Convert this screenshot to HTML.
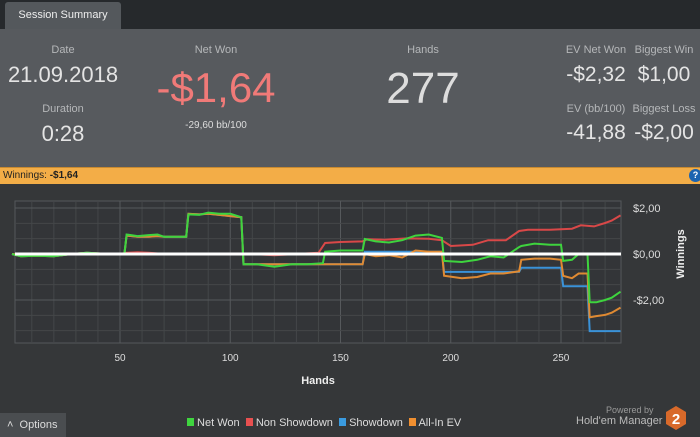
<!DOCTYPE html>
<html><head><meta charset="utf-8"><style>
*{margin:0;padding:0;box-sizing:border-box}
body{width:700px;height:437px;overflow:hidden;background:#353739;font-family:"Liberation Sans",sans-serif;position:relative}
.a{position:absolute;white-space:nowrap}
.lbl{font-size:11px;color:#b5b7b9;transform:translateX(-50%)}
.val{color:#e4e4e4;transform:translateX(-50%)}
</style></head><body>
<div class="a" style="left:0;top:0;width:700px;height:29px;background:#26292c"></div>
<div class="a" style="left:5px;top:2px;width:116px;height:27px;background:#54585c;border-radius:3px 3px 0 0;color:#eee;font-size:11px;line-height:27px;text-align:center">Session Summary</div>
<div class="a" style="left:0;top:29px;width:700px;height:138px;background:#575a5e"></div>
<div class="a lbl" style="left:63px;top:44px">Date</div>
<div class="a val" style="left:63px;top:62px;font-size:22px">21.09.2018</div>
<div class="a lbl" style="left:63px;top:103px">Duration</div>
<div class="a val" style="left:63px;top:121px;font-size:22px">0:28</div>
<div class="a lbl" style="left:216px;top:44px">Net Won</div>
<div class="a val" style="left:216px;top:64px;font-size:42px;color:#f07a78">-$1,64</div>
<div class="a val" style="left:216px;top:120px;font-size:10px;color:#ddd">-29,60 bb/100</div>
<div class="a lbl" style="left:423px;top:44px">Hands</div>
<div class="a val" style="left:423px;top:64px;font-size:44px;color:#ddd">277</div>
<div class="a lbl" style="left:596px;top:44px">EV Net Won</div>
<div class="a val" style="left:596px;top:63px;font-size:21px">-$2,32</div>
<div class="a lbl" style="left:664px;top:44px">Biggest Win</div>
<div class="a val" style="left:664px;top:63px;font-size:21px">$1,00</div>
<div class="a lbl" style="left:596px;top:103px">EV (bb/100)</div>
<div class="a val" style="left:596px;top:121px;font-size:21px">-41,88</div>
<div class="a lbl" style="left:664px;top:103px">Biggest Loss</div>
<div class="a val" style="left:664px;top:121px;font-size:21px">-$2,00</div>
<div class="a" style="left:0;top:167px;width:700px;height:17px;background:#f3ad47;border-top:1px solid #c88a30;font-size:10px;line-height:16px;padding-left:3px;color:#222">Winnings: <b>-$1,64</b></div>
<div class="a" style="left:689px;top:169px;width:13px;height:13px;border-radius:50%;background:#1c64b0;color:#fff;font-size:9px;font-weight:bold;line-height:13px;text-align:center">?</div>
<svg class="a" style="left:0;top:184px" width="700" height="225" id="chart"></svg>
<div class="a" style="left:0;top:413px;width:66px;height:24px;background:#4a4d50;color:#ddd;font-size:11px;line-height:24px;padding-left:7px">˄ &nbsp;Options</div>
<div class="a" style="left:187px;top:417px;font-size:11px;color:#ddd">
<span><span style="display:inline-block;width:7px;height:8px;background:#3fd43f"></span> Net Won</span>&nbsp;
<span><span style="display:inline-block;width:7px;height:8px;background:#e85050"></span> Non Showdown</span>&nbsp;
<span><span style="display:inline-block;width:7px;height:8px;background:#3a9be0"></span> Showdown</span>&nbsp;
<span><span style="display:inline-block;width:7px;height:8px;background:#f08f30"></span> All-In EV</span></div>
<div class="a" style="left:606px;top:405px;font-size:9px;color:#999">Powered by</div>
<div class="a" style="left:576px;top:415px;font-size:11px;color:#bbb">Hold'em Manager</div>
<svg class="a" style="left:665px;top:405px" width="22" height="26"><polygon points="11,1 21,7 21,19 11,25 1,19 1,7" fill="#d8692a"/><text x="11" y="19" fill="#fff" font-size="15" font-weight="bold" text-anchor="middle" font-family="Liberation Sans">2</text></svg>
<script>
const xTicks=[50,100,150,200,250];
const yTicks=[2,0,-2];
const yTickLabels=["$2,00","$0,00","-$2,00"];
const netWonH=[1,5,12,20,28,35,45,52,53,58,63,67,70,80,81,86,90,95,100,105,106,112,120,128,135,142,143,150,160,161,166,172,178,184,190,196,197,205,212,218,224,231,232,238,245,250,251,255,258,262,263,266,270,273,277];
const netWonV=[0,-0.1,-0.08,-0.1,0,0.05,0,0,0.85,0.78,0.82,0.85,0.75,0.75,1.72,1.7,1.8,1.75,1.75,1.6,-0.45,-0.45,-0.55,-0.45,-0.45,-0.4,0.1,0.15,0.15,0.65,0.55,0.5,0.6,0.8,0.85,0.7,-0.3,-0.35,-0.25,-0.1,-0.15,0.3,0.35,0.45,0.4,0.4,-0.3,-0.25,0,0,-2.1,-2.1,-2.0,-1.9,-1.64];
const nonShowH=[1,50,53,58,63,70,80,90,100,110,120,130,140,143,150,160,162,170,180,190,196,200,210,217,225,231,235,245,255,259,265,270,273,277];
const nonShowV=[0,0,0.05,0.08,0.05,0,0,0,0,0,-0.05,0,0.05,0.48,0.52,0.55,0.64,0.62,0.68,0.66,0.6,0.35,0.4,0.6,0.6,1.0,1.05,1.05,1.1,1.25,1.2,1.35,1.45,1.68];
const showH=[1,5,12,20,28,35,45,52,53,58,63,67,70,80,81,86,90,95,100,105,106,120,143,160,161,196,197,231,232,250,251,262,263,277];
const showV=[0,-0.1,-0.08,-0.1,0,0.05,0,0,0.8,0.75,0.75,0.78,0.75,0.75,1.75,1.72,1.75,1.7,1.65,1.6,-0.45,-0.45,-0.45,-0.45,0.1,0.1,-0.78,-0.78,-0.6,-0.6,-1.4,-1.4,-3.35,-3.35];
const evH=[1,5,12,20,28,35,45,52,53,58,63,67,70,80,81,86,90,95,100,105,106,120,143,160,161,166,172,178,184,190,196,197,205,212,218,224,231,232,238,245,250,251,255,258,262,263,266,270,273,277];
const evV=[0,-0.1,-0.08,-0.1,0,0.05,0,0,0.8,0.75,0.75,0.78,0.75,0.75,1.75,1.72,1.75,1.7,1.65,1.6,-0.45,-0.45,-0.45,-0.45,0,-0.1,-0.05,-0.15,0.15,0.1,0.1,-0.95,-1.05,-1.0,-0.85,-0.85,-0.75,-0.25,-0.2,-0.2,-0.25,-0.95,-1.05,-0.85,-0.85,-2.75,-2.7,-2.65,-2.55,-2.33];
const svg=document.getElementById('chart');
const NS='http://www.w3.org/2000/svg';
const L=15,R=621,T=17,B=159;
function xs(h){return 120+(h-50)*2.205;}
function ys(v){return 70-v*23;}
function add(tag,at){const e=document.createElementNS(NS,tag);for(const k in at)e.setAttribute(k,at[k]);svg.appendChild(e);return e;}
const bg=add('rect',{x:L,y:T,width:R-L,height:B-T,fill:'#333538',stroke:'#55585b'});


for(let h=10;h<=270;h+=10){const g=add('line',{x1:xs(h),x2:xs(h),y1:T,y2:B,stroke:h%50==0?'#56595c':'#444749','stroke-width':1});}
for(let k=-6;k<=4;k++){const v=k*2/3;const y=ys(v);if(y<T+2||y>B-2)continue;const g=add('line',{x1:L,x2:R,y1:y,y2:y,stroke:k%3==0?'#56595c':'#444749'});}
xTicks.forEach(h=>{const t=add('text',{x:xs(h),y:177,fill:'#ddd','font-size':10,'text-anchor':'middle','font-family':'Liberation Sans'});t.textContent=h;});
yTicks.forEach((v,i)=>{const t=add('text',{x:633,y:ys(v)+4,fill:'#ddd','font-size':11,'font-family':'Liberation Sans'});t.textContent=yTickLabels[i];});
function series(H,V,c,name){let d='';H.forEach((h,i)=>{d+=(i?'L':'M')+xs(h).toFixed(1)+','+ys(V[i]).toFixed(1);});const p=add('path',{d:d,fill:'none',stroke:c,'stroke-width':2});}
series(nonShowH,nonShowV,'#d94848','line-non-showdown');
series(showH,showV,'#3a92d8','line-showdown');
series(evH,evV,'#e08a32','line-all-in-ev');
series(netWonH,netWonV,'#3ed43e','line-net-won');
const z=add('line',{x1:L,x2:R,y1:ys(0),y2:ys(0),stroke:'#fff','stroke-width':3});


const xt=add('text',{x:318,y:200,fill:'#eee','font-size':11,'font-weight':'bold','text-anchor':'middle','font-family':'Liberation Sans'});xt.textContent='Hands';


const yt=add('text',{x:684,y:70,fill:'#eee','font-size':11,'font-weight':'bold','text-anchor':'middle','font-family':'Liberation Sans',transform:'rotate(-90 684 70)'});yt.textContent='Winnings';


</script>
</body></html>
